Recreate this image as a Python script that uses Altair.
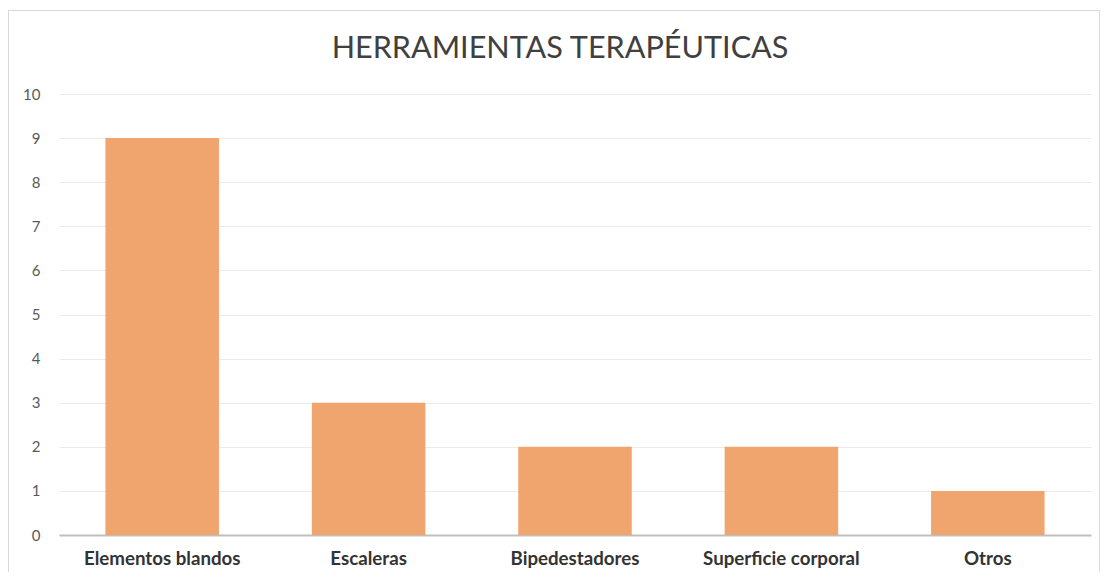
import altair as alt
import pandas as pd

title_text = "HERRAMIENTAS TERAPÉUTICAS"
categories = ["Elementos blandos", "Escaleras", "Bipedestadores", "Superficie corporal", "Otros"]
values = [9, 3, 2, 2, 1]

df = pd.DataFrame({"categoria": categories, "valor": values})

W, H = 1032, 441

bars = alt.Chart(df).mark_bar(color="#F0A56F").encode(
    x=alt.X("categoria:N", sort=categories, title=None,
            scale=alt.Scale(paddingInner=0.45, paddingOuter=0.225),
            axis=alt.Axis(labelAngle=0, labelFont="Lato", labelFontSize=18.7,
                          labelFontWeight="bold", labelColor="#333333",
                          labelPadding=14, ticks=False, domain=True,
                          domainColor="#BFBFBF", domainWidth=2, grid=False)),
    y=alt.Y("valor:Q", title=None,
            scale=alt.Scale(domain=[0, 10]),
            axis=alt.Axis(values=list(range(0, 11)), labelFont="Lato", labelFontSize=15,
                          labelColor="#595959", labelPadding=19, ticks=False,
                          domain=False, gridColor="#EBEBEB", gridWidth=1)),
)

frame = alt.Chart(df).mark_rect(fill=None, stroke="#D9D9D9", strokeWidth=1).encode(
    x=alt.value(-50.5), x2=alt.value(1040.5), y=alt.value(-83.5), y2=alt.value(520)
)

title = alt.Chart(pd.DataFrame({"t": [title_text]})).mark_text(
    font="Lato", fontSize=30.6, color="#404040", align="center", baseline="alphabetic"
).encode(text="t:N", x=alt.value(W / 2 - 15), y=alt.value(-36))

chart = alt.layer(frame, bars, title).properties(
    width=W, height=H,
    padding={"left": 51, "top": 86, "right": 9, "bottom": 37},
    autosize=alt.AutoSizeParams(type="none"),
).configure_view(stroke=None)

chart.save("out.html", embed_options={"renderer": "svg", "actions": False})
